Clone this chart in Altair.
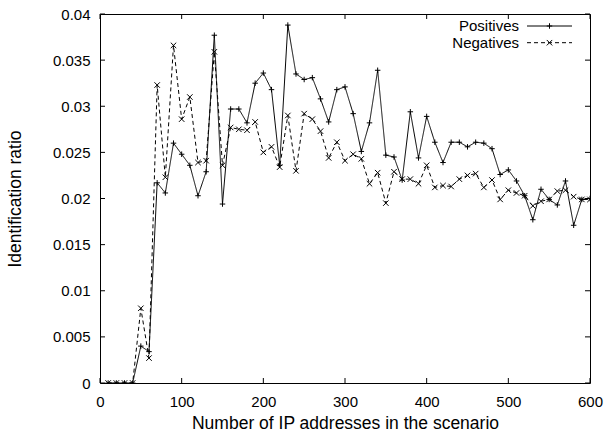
import altair as alt
import pandas as pd

# ---- data ----
x_values = list(range(10, 601, 10))

positives = [
    0, 0, 0, 0, 0.0040, 0.0034, 0.0217, 0.0206, 0.0260, 0.0248,
    0.0236, 0.0203, 0.0229, 0.0377, 0.0194, 0.0297, 0.0297, 0.0282, 0.0325, 0.0336,
    0.0318, 0.0236, 0.0388, 0.0335, 0.0329, 0.0331, 0.0308, 0.0283, 0.0318, 0.0321,
    0.0292, 0.0251, 0.0282, 0.0339, 0.0247, 0.0245, 0.0220, 0.0294, 0.0244, 0.0289,
    0.0261, 0.0239, 0.0261, 0.0261, 0.0256, 0.0261, 0.0260, 0.0254, 0.0226, 0.0231,
    0.0219, 0.0203, 0.0177, 0.0210, 0.0199, 0.0193, 0.0219, 0.0171, 0.0199, 0.0200,
]

negatives = [
    0, 0, 0, 0, 0.0081, 0.0027, 0.0323, 0.0223, 0.0366, 0.0286,
    0.0310, 0.0239, 0.0241, 0.0359, 0.0236, 0.0277, 0.0275, 0.0274, 0.0283, 0.0250,
    0.0256, 0.0234, 0.0290, 0.0230, 0.0292, 0.0286, 0.0273, 0.0244, 0.0261, 0.0241,
    0.0248, 0.0243, 0.0216, 0.0228, 0.0195, 0.0229, 0.0221, 0.0221, 0.0216, 0.0236,
    0.0212, 0.0214, 0.0213, 0.0221, 0.0225, 0.0227, 0.0212, 0.0220, 0.0199, 0.0209,
    0.0206, 0.0203, 0.0192, 0.0197, 0.0199, 0.0208, 0.0209, 0.0202, 0.0199, 0.0199,
]

series_names = ["Positives", "Negatives"]
x_ticks = [0, 100, 200, 300, 400, 500, 600]
y_ticks = [0, 0.005, 0.01, 0.015, 0.02, 0.025, 0.03, 0.035, 0.04]

x_title = "Number of IP addresses in the scenario"
y_title = "Identification ratio"

# ---- styling ----
W, H = 490, 369
FONT = "Liberation Sans"
PLUS = "M-1,0L1,0M0,-1L0,1"
CROSS = "M-1,-1L1,1M-1,1L1,-1"
shapes = [PLUS, CROSS]
dashes = [[1, 0], [4, 3]]
TICK = 5

rows = []
for name, vals in zip(series_names, [positives, negatives]):
    for xv, yv in zip(x_values, vals):
        rows.append({"x": xv, "value": yv, "series": name})
df = pd.DataFrame(rows)

xscale = alt.Scale(domain=[0, 600], nice=False, zero=False)
yscale = alt.Scale(domain=[0, 0.04], nice=False, zero=False)

x_enc = alt.X(
    "x:Q", scale=xscale,
    axis=alt.Axis(
        values=x_ticks, format="d", title=x_title, grid=False, domain=False,
        tickSize=0, labelPadding=11, labelFlush=False, labelOverlap=False,
        labelFont=FONT, labelFontSize=15, labelColor="black",
        titleFont=FONT, titleFontSize=17.5, titleFontWeight="normal",
        titleColor="black", titleY=45, titleBaseline="alphabetic",
    ),
)
y_enc = alt.Y(
    "value:Q", scale=yscale,
    axis=alt.Axis(
        values=y_ticks, format=".3~f", title=y_title, grid=False, domain=False,
        tickSize=0, labelPadding=10, labelFlush=False, labelOverlap=False,
        labelFont=FONT, labelFontSize=15, labelColor="black",
        titleFont=FONT, titleFontSize=17.5, titleFontWeight="normal",
        titleColor="black", titleX=-85, titleY=H / 2, titleAngle=-90,
        titleAlign="center", titleBaseline="middle",
    ),
)

base = alt.Chart(df)

lines = base.mark_line(color="black", strokeWidth=1, clip=True).encode(
    x=x_enc,
    y=y_enc,
    detail="series:N",
    strokeDash=alt.StrokeDash(
        "series:N", scale=alt.Scale(domain=series_names, range=dashes), legend=None
    ),
)

points = base.mark_point(
    color="black", filled=False, strokeWidth=1, opacity=1, size=30, clip=True
).encode(
    x="x:Q",
    y="value:Q",
    shape=alt.Shape(
        "series:N", scale=alt.Scale(domain=series_names, range=shapes), legend=None
    ),
)

# inward ticks on all four sides
xt = pd.DataFrame({"x": x_ticks})
yt = pd.DataFrame({"value": y_ticks})
xtick_bottom = alt.Chart(xt).mark_rule(color="black", strokeWidth=1).encode(
    x="x:Q", y=alt.value(H), y2=alt.value(H - TICK))
xtick_top = alt.Chart(xt).mark_rule(color="black", strokeWidth=1).encode(
    x="x:Q", y=alt.value(0), y2=alt.value(TICK))
ytick_left = alt.Chart(yt).mark_rule(color="black", strokeWidth=1).encode(
    y="value:Q", x=alt.value(0), x2=alt.value(TICK))
ytick_right = alt.Chart(yt).mark_rule(color="black", strokeWidth=1).encode(
    y="value:Q", x=alt.value(W - TICK), x2=alt.value(W))

# legend (label left of sample, as in the reference)
legend_layers = []
for i, name in enumerate(series_names):
    ypx = 12 + i * 16.7
    ld = alt.Data(values=[{"name": name}])
    legend_layers.append(
        alt.Chart(ld).mark_text(
            align="right", baseline="middle", font=FONT, fontSize=15, color="black"
        ).encode(x=alt.value(419), y=alt.value(ypx), text="name:N")
    )
    legend_layers.append(
        alt.Chart(ld).mark_rule(
            color="black", strokeWidth=1, strokeDash=dashes[i]
        ).encode(x=alt.value(427), x2=alt.value(472), y=alt.value(ypx))
    )
    legend_layers.append(
        alt.Chart(ld).mark_point(
            shape=shapes[i], color="black", filled=False, strokeWidth=1,
            opacity=1, size=30
        ).encode(x=alt.value(449.5), y=alt.value(ypx))
    )

chart = alt.layer(
    lines, points, xtick_bottom, xtick_top, ytick_left, ytick_right, *legend_layers
).properties(
    width=W,
    height=H,
    autosize=alt.AutoSizeParams(type="none"),
    padding={"left": 100, "top": 14, "right": 15, "bottom": 52},
    background="white",
).configure_view(
    stroke="black", strokeWidth=1
)

chart.save("out.html", embed_options={"renderer": "svg", "actions": False})
